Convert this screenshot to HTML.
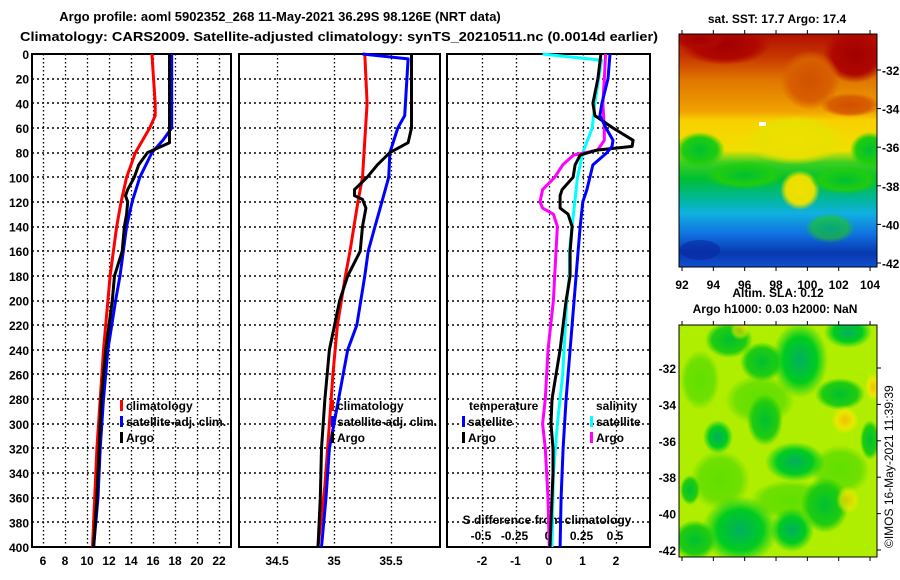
<!DOCTYPE html>
<html><head><meta charset="utf-8"><style>
html,body{margin:0;padding:0;background:#fff;}
svg{display:block;font-family:"Liberation Sans",Arial,sans-serif;font-weight:bold;}
</style></head><body>
<svg id="c" width="900" height="580" viewBox="0 0 900 580" xmlns="http://www.w3.org/2000/svg">
<defs>
<linearGradient id="sst" x1="0" y1="0" x2="0" y2="1">
<stop offset="0" stop-color="#b01000"/><stop offset="0.1" stop-color="#c83800"/>
<stop offset="0.2" stop-color="#e07800"/><stop offset="0.33" stop-color="#f0a000"/>
<stop offset="0.37" stop-color="#f8d000"/><stop offset="0.5" stop-color="#f0e000"/>
<stop offset="0.55" stop-color="#40d020"/><stop offset="0.62" stop-color="#00c030"/>
<stop offset="0.7" stop-color="#00b890"/><stop offset="0.77" stop-color="#10b0e0"/>
<stop offset="0.86" stop-color="#1070e0"/><stop offset="0.94" stop-color="#0838b0"/>
<stop offset="1" stop-color="#1050d0"/></linearGradient>
<radialGradient id="blobG"><stop offset="0" stop-color="#00b060"/><stop offset="0.6" stop-color="#00cc20"/><stop offset="1" stop-color="#00cc20" stop-opacity="0"/></radialGradient>
<radialGradient id="blobY"><stop offset="0" stop-color="#f0c000"/><stop offset="0.6" stop-color="#e8e800"/><stop offset="1" stop-color="#e8e800" stop-opacity="0"/></radialGradient>
<radialGradient id="blobR"><stop offset="0" stop-color="#a00000"/><stop offset="0.7" stop-color="#b00800"/><stop offset="1" stop-color="#b00800" stop-opacity="0"/></radialGradient>
<radialGradient id="blobO"><stop offset="0" stop-color="#d05000"/><stop offset="0.7" stop-color="#d86000"/><stop offset="1" stop-color="#d86000" stop-opacity="0"/></radialGradient>
<radialGradient id="blobYe"><stop offset="0" stop-color="#f0e000"/><stop offset="0.7" stop-color="#e8e000"/><stop offset="1" stop-color="#e8e000" stop-opacity="0"/></radialGradient>
<radialGradient id="blobGr"><stop offset="0" stop-color="#00c030"/><stop offset="0.7" stop-color="#20cc10"/><stop offset="1" stop-color="#20cc10" stop-opacity="0"/></radialGradient>
<radialGradient id="blobLG"><stop offset="0" stop-color="#60e000"/><stop offset="0.7" stop-color="#70e000"/><stop offset="1" stop-color="#70e000" stop-opacity="0"/></radialGradient>
<clipPath id="m1c"><rect x="679" y="34" width="198" height="233"/></clipPath>
<clipPath id="m2c"><rect x="679" y="325" width="198" height="232"/></clipPath>
</defs>
<text x="280" y="21" text-anchor="middle" font-size="13">Argo profile: aoml 5902352_268 11-May-2021 36.29S 98.126E (NRT data)</text>
<text x="20" y="41" font-size="13" textLength="638" lengthAdjust="spacingAndGlyphs">Climatology: CARS2009. Satellite-adjusted climatology: synTS_20210511.nc (0.0014d earlier)</text>
<g id="panels"></g>
<g clip-path="url(#m1c)">
<rect x="679" y="34" width="198" height="233" fill="url(#sst)"/>
<ellipse cx="725" cy="45" rx="45" ry="20" fill="url(#blobR)"/>
<ellipse cx="855" cy="55" rx="32" ry="28" fill="url(#blobR)"/>
<ellipse cx="700" cy="40" rx="25" ry="10" fill="url(#blobR)"/>
<ellipse cx="810" cy="80" rx="30" ry="30" fill="url(#blobO)"/>
<ellipse cx="850" cy="105" rx="30" ry="12" fill="url(#blobO)"/>
<ellipse cx="795" cy="140" rx="50" ry="25" fill="url(#blobYe)"/>
<ellipse cx="800" cy="190" rx="20" ry="20" fill="url(#blobYe)"/>
<ellipse cx="700" cy="150" rx="25" ry="18" fill="url(#blobGr)"/>
<ellipse cx="870" cy="150" rx="20" ry="18" fill="url(#blobGr)"/>
<ellipse cx="745" cy="175" rx="40" ry="14" fill="url(#blobGr)"/>
<ellipse cx="845" cy="180" rx="35" ry="14" fill="url(#blobGr)"/>
<ellipse cx="830" cy="228" rx="25" ry="15" fill="url(#blobGr)" opacity="0.6"/>
<ellipse cx="700" cy="250" rx="20" ry="10" fill="#0828a0" opacity="0.6"/>
<rect x="759" y="122" width="7" height="4" fill="#fff"/>
</g>
<rect x="679" y="34" width="198" height="233" fill="none" stroke="#000"/>
<text x="777" y="23" text-anchor="middle" font-size="12">sat. SST: 17.7 Argo: 17.4</text>
<g id="map1ax" font-size="12"></g>
<text x="778" y="297" text-anchor="middle" font-size="12">Altim. SLA: 0.12</text>
<text x="775" y="313" text-anchor="middle" font-size="12">Argo h1000: 0.03 h2000: NaN</text>
<g clip-path="url(#m2c)">
<rect x="679" y="325" width="198" height="232" fill="#b0ee00"/>
<ellipse cx="700" cy="380" rx="20" ry="30" fill="url(#blobLG)"/>
<ellipse cx="760" cy="400" rx="35" ry="25" fill="url(#blobLG)"/>
<ellipse cx="720" cy="480" rx="30" ry="30" fill="url(#blobLG)"/>
<ellipse cx="840" cy="470" rx="30" ry="25" fill="url(#blobLG)"/>
<ellipse cx="790" cy="500" rx="40" ry="20" fill="url(#blobLG)"/>
<ellipse cx="729" cy="340" rx="24" ry="18" fill="url(#blobGr)"/>
<ellipse cx="762" cy="362" rx="22" ry="20" fill="url(#blobGr)"/>
<ellipse cx="800" cy="360" rx="28" ry="38" fill="url(#blobG)"/>
<ellipse cx="848" cy="332" rx="24" ry="16" fill="url(#blobG)"/>
<ellipse cx="840" cy="394" rx="25" ry="16" fill="url(#blobGr)"/>
<ellipse cx="765" cy="420" rx="18" ry="26" fill="url(#blobGr)"/>
<ellipse cx="718" cy="437" rx="15" ry="17" fill="url(#blobG)"/>
<ellipse cx="795" cy="462" rx="30" ry="20" fill="url(#blobG)"/>
<ellipse cx="740" cy="530" rx="38" ry="34" fill="url(#blobG)"/>
<ellipse cx="695" cy="540" rx="22" ry="20" fill="url(#blobGr)"/>
<ellipse cx="825" cy="505" rx="24" ry="28" fill="url(#blobGr)"/>
<ellipse cx="792" cy="530" rx="22" ry="22" fill="url(#blobG)"/>
<ellipse cx="690" cy="490" rx="10" ry="15" fill="url(#blobGr)"/>
<ellipse cx="870" cy="440" rx="10" ry="20" fill="url(#blobGr)"/>
<ellipse cx="845" cy="420" rx="14" ry="14" fill="url(#blobY)"/>
<ellipse cx="873" cy="387" rx="8" ry="14" fill="url(#blobY)"/>
<ellipse cx="848" cy="500" rx="12" ry="14" fill="url(#blobY)" opacity="0.7"/>
<ellipse cx="740" cy="330" rx="10" ry="10" fill="url(#blobY)" opacity="0.6"/>
</g>
<rect x="679" y="325" width="198" height="232" fill="none" stroke="#000"/>
<g id="map2ax" font-size="12"></g>
<text transform="translate(893,548) rotate(-90)" font-size="12" font-weight="normal">©IMOS 16-May-2021 11:39:39</text>
</svg>
<script>
var depthTicks = [0,20,40,60,80,100,120,140,160,180,200,220,240,260,280,300,320,340,360,380,400];
var tempTicks = [6,8,10,12,14,16,18,20,22];
var salTicks = [34.5,35,35.5];
var salTickLabels = ['34.5','35','35.5'];
var diffTTicks = [-2,-1,0,1,2];
var diffSTicks = [-0.5,-0.25,0,0.25,0.5];
var diffSTickLabels = ['-0.5','-0.25','0','0.25','0.5'];

var climTDepth = [0,40,50,60,80,100,120,140,160,180,200,240,280,320,360,400];
var climTValue = [15.9,16.2,16.2,15.7,14.4,13.6,13.1,12.7,12.4,12.1,11.9,11.5,11.2,10.9,10.7,10.5];
var satTDepth = [0,60,70,80,100,120,140,160,180,200,240,280,320,360,400];
var satTValue = [17.7,17.7,16.9,15.9,14.8,14.1,13.6,13.3,13.0,12.6,11.9,11.5,11.2,11.0,10.6];
var argoTDepth = [0,72,80,90,100,110,115,120,130,140,160,180,200,240,280,320,360,400];
var argoTValue = [17.5,17.5,15.5,14.7,14.3,13.7,13.5,13.7,13.6,13.4,13.2,12.5,12.3,11.7,11.3,11.1,10.9,10.6];

var climSDepth = [0,40,100,120,160,180,220,260,300,350,400];
var climSValue = [35.27,35.29,35.25,35.21,35.14,35.10,35.03,34.99,34.96,34.92,34.86];
var satSDepth = [0,4,50,60,80,100,120,140,160,180,220,240,280,320,360,400];
var satSValue = [35.25,35.65,35.62,35.56,35.49,35.48,35.42,35.36,35.30,35.27,35.20,35.12,35.04,34.96,34.93,34.89];
var argoSDepth = [0,60,72,80,90,100,110,115,118,125,140,160,180,200,240,280,320,360,400];
var argoSValue = [35.68,35.68,35.65,35.49,35.38,35.29,35.18,35.18,35.25,35.28,35.25,35.23,35.12,35.05,34.96,34.92,34.89,34.88,34.86];

var dSatTDepth = [0,20,40,50,60,70,75,80,90,100,110,120,140,160,200,240,280,320,360,400];
var dSatTValue = [1.82,1.76,1.58,1.52,1.70,1.91,1.88,1.73,1.31,1.22,1.13,1.01,0.93,0.87,0.75,0.63,0.51,0.42,0.36,0.33];
var dArgoTDepth = [0,20,40,50,60,70,75,78,82,90,100,110,115,125,130,140,160,180,200,240,280,300,320,340,360,400];
var dArgoTValue = [1.55,1.46,1.31,1.37,1.91,2.51,2.48,1.43,0.93,0.78,0.72,0.39,0.33,0.33,0.57,0.69,0.63,0.63,0.51,0.33,0.09,0.06,0.12,0.12,0.09,0.03];
var dSatSDepth = [0,5,40,60,80,100,120,140,160,180,200,260,300,340,400];
var dSatSValue = [-0.04,0.40,0.35,0.33,0.26,0.22,0.20,0.18,0.16,0.16,0.14,0.11,0.07,0.04,0.03];
var dArgoSDepth = [0,20,40,60,70,78,82,90,100,110,120,125,130,140,160,180,200,240,280,300,320,360,400];
var dArgoSValue = [0.43,0.42,0.41,0.42,0.42,0.37,0.19,0.11,0.05,-0.04,-0.06,-0.04,0.04,0.07,0.06,0.05,0.04,0.00,-0.02,-0.04,-0.02,0.00,0.01];

var lonTicks = [92,94,96,98,100,102,104];
var latTicks = [-32,-34,-36,-38,-40,-42];

var NS='http://www.w3.org/2000/svg';
var TOP=54, BOT=547;
function yD(d){return TOP+(d/400)*(BOT-TOP);}
function xT(t){return 43+(t-6)*11;}
function xS(s){return 334+(s-35)*114;}
function xDT(t){return 549+t*33.5;}
function xDS(s){return 548+s*134;}
var panels=[{x0:32,x1:231,name:'temperature'},{x0:239,x1:440,name:'salinity'},{x0:447,x1:650,name:'difference'}];
var root=document.getElementById('panels');
function mk(tag,attrs,parent){var e=document.createElementNS(NS,tag);for(var k in attrs)e.setAttribute(k,attrs[k]);(parent||root).appendChild(e);return e;}

panels.forEach(function(p,i){
  var g=mk('g',{});
  
  
  depthTicks.forEach(function(d){
    var yy=Math.round(yD(d));
    var l=mk('line',{x1:p.x0,x2:p.x1,y1:yy,y2:yy,stroke:'#000','stroke-dasharray':'2 3','stroke-width':1.5},g);
    
    
  });
  var vt = i===0?tempTicks.map(xT):(i===1?salTicks.map(xS):diffTTicks.map(xDT));
  vt.forEach(function(x){
    var xx=Math.round(x)+0.5;
    var l=mk('line',{x1:xx,x2:xx,y1:TOP,y2:BOT,stroke:'#000','stroke-dasharray':'1.5 2.5','stroke-width':1.3},g);
    
    
  });
  var r=mk('rect',{x:p.x0,y:TOP,width:p.x1-p.x0,height:BOT-TOP,fill:'none',stroke:'#000','stroke-width':2},g);
  
  
});
depthTicks.forEach(function(d){
  var t=mk('text',{x:29,y:yD(d)+5,'text-anchor':'end','font-size':12});
  t.textContent=d;
  
  
});
tempTicks.forEach(function(v){
  var t=mk('text',{x:xT(v),y:565,'text-anchor':'middle','font-size':12});
  t.textContent=v;
  
  
});
salTicks.forEach(function(v,i){
  var t=mk('text',{x:xS(v),y:565,'text-anchor':'middle','font-size':12});
  t.textContent=salTickLabels[i];
  
  
});
diffTTicks.forEach(function(v){
  var t=mk('text',{x:xDT(v),y:565,'text-anchor':'middle','font-size':12});
  t.textContent=v;
  
  
});
diffSTicks.forEach(function(v,i){
  var t=mk('text',{x:xDS(v),y:540,'text-anchor':'middle','font-size':12});
  t.textContent=diffSTickLabels[i];
  
  
});
var st=mk('text',{x:547,y:524,'text-anchor':'middle','font-size':12});
st.textContent='S difference from climatology';



function series(depths,vals,fx,color,name){
  var pts=depths.map(function(d,i){return fx(vals[i]).toFixed(1)+','+yD(d).toFixed(1);}).join(' ');
  var pl=mk('polyline',{points:pts,fill:'none',stroke:color,'stroke-width':3,'stroke-linejoin':'round'});
  
  
}
series(climTDepth,climTValue,xT,'#ff0000','temp-climatology-line');
series(satTDepth,satTValue,xT,'#0000ff','temp-satellite-line');
series(argoTDepth,argoTValue,xT,'#000000','temp-argo-line');
series(climSDepth,climSValue,xS,'#ff0000','sal-climatology-line');
series(satSDepth,satSValue,xS,'#0000ff','sal-satellite-line');
series(argoSDepth,argoSValue,xS,'#000000','sal-argo-line');
series(dSatSDepth,dSatSValue,xDS,'#00ffff','sal-diff-satellite-line');
series(dArgoSDepth,dArgoSValue,xDS,'#ff00ff','sal-diff-argo-line');
series(dArgoTDepth,dArgoTValue,xDT,'#000000','temp-diff-argo-line');
series(dSatTDepth,dSatTValue,xDT,'#0000ff','temp-diff-satellite-line');

function legend(x,y,color,label,name){
  if(color){var m=mk('rect',{x:x-6,y:y-10,width:3,height:11,fill:color});
    
    }
  var t=mk('text',{x:x,y:y,'font-size':12});
  t.textContent=label;
  
  
}
legend(126,410,'#ff0000','climatology','legend-climatology-1');
legend(126,426,'#0000ff','satellite-adj. clim.','legend-satellite-1');
legend(126,442,'#000000','Argo','legend-argo-1');
legend(337,410,'#ff0000','climatology','legend-climatology-2');
legend(337,426,'#0000ff','satellite-adj. clim.','legend-satellite-2');
legend(337,442,'#000000','Argo','legend-argo-2');
legend(469,410,null,'temperature','legend-temperature-title');
legend(468,426,'#0000ff','satellite','legend-temp-satellite');
legend(468,442,'#000000','Argo','legend-temp-argo');
legend(596,410,null,'salinity','legend-salinity-title');
legend(596,426,'#00ffff','satellite','legend-sal-satellite');
legend(596,442,'#ff00ff','Argo','legend-sal-argo');

var m1=document.getElementById('map1ax'), m2=document.getElementById('map2ax');
function xLon(l){return 682+(l-92)*15.67;}
function yLat1(l){return 70+(-32-l)*19.3;}
function yLat2(l){return 368+(-32-l)*18.2;}
lonTicks.forEach(function(l){
  var t=mk('text',{x:xLon(l),y:289,'text-anchor':'middle'},m1);
  t.textContent=l;
  
  
  mk('line',{x1:xLon(l),x2:xLon(l),y1:30,y2:34,stroke:'#000'},m1);
  mk('line',{x1:xLon(l),x2:xLon(l),y1:267,y2:271,stroke:'#000'},m1);
  mk('line',{x1:xLon(l),x2:xLon(l),y1:321,y2:325,stroke:'#000'},m2);
  mk('line',{x1:xLon(l),x2:xLon(l),y1:557,y2:561,stroke:'#000'},m2);
});
latTicks.forEach(function(l){
  var t=mk('text',{x:882,y:yLat1(l)+5},m1);
  t.textContent=l;
  
  
  mk('line',{x1:877,x2:881,y1:yLat1(l),y2:yLat1(l),stroke:'#000'},m1);
  var t2=mk('text',{x:676,y:yLat2(l)+5,'text-anchor':'end'},m2);
  t2.textContent=l;
  
  
  mk('line',{x1:877,x2:881,y1:yLat2(l),y2:yLat2(l),stroke:'#000'},m2);
});
</script>
</body></html>
